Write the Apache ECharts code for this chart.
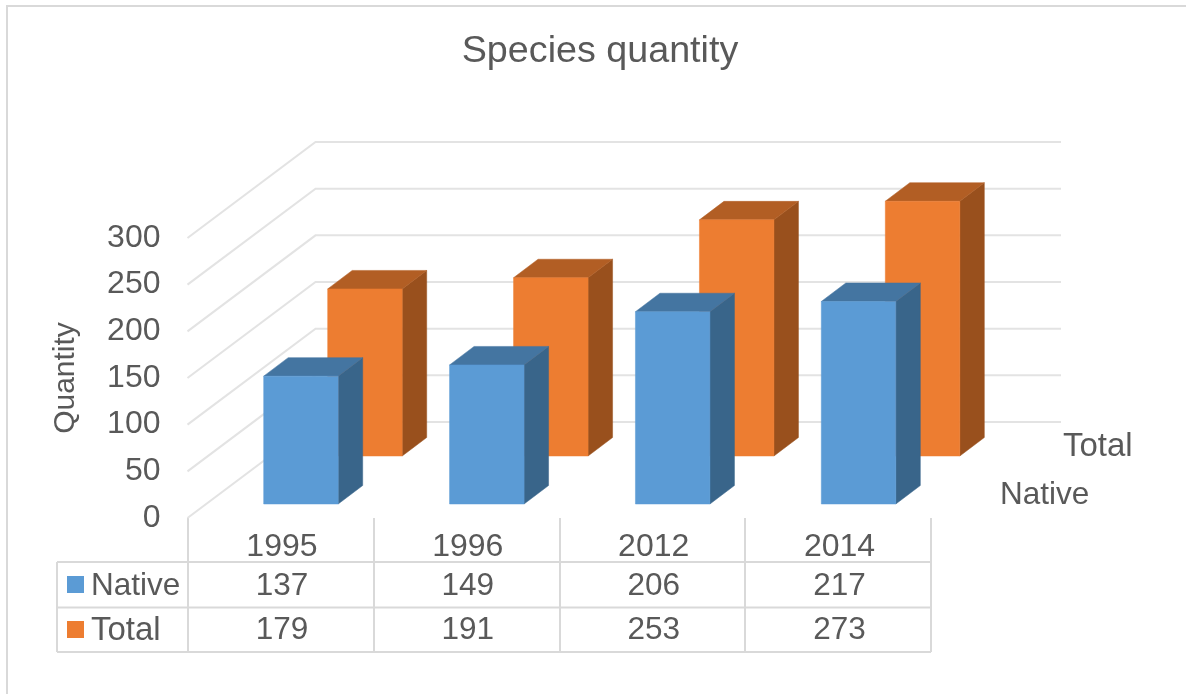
<!DOCTYPE html>
<html>
<head>
<meta charset="utf-8">
<style>html,body{margin:0;padding:0;background:#fff}#chart{width:1186px;height:694px}</style>
<script src="https://cdn.jsdelivr.net/npm/echarts@6/dist/echarts.min.js"></script>
</head>
<body>
<div id="chart"></div>
<script>
const years = ['1995', '1996', '2012', '2014'];
const native = [137, 149, 206, 217];
const total = [179, 191, 253, 273];
const seriesNames = ['Native', 'Total'];
const wallTicks = [0, 50, 100, 150, 200, 250, 300];

const FONT = '"Liberation Sans", Arial, sans-serif';
const INK = '#595959';
const RULE = '#d9d9d9';
const BAR_W = 74.5;
const BAR_DEPTH = [24.5, -18.5];
const WALL_DEPTH = [128, -96];
const WALL_RIGHT = 1061;
const TABLE_LEFT = 57;
const TABLE_RIGHT = 931;
const ROW_LINES = [562, 607.5, 652];
const ROW_TEXT_Y = [586, 630];

// Extruded bar: front, top and side faces, offset along the floor depth.
function barRenderer(shift, front, top, side) {
  return function (params, api) {
    const i = api.value(0);
    const v = api.value(1);
    const base = api.coord([i, 0]);
    const head = api.coord([i, v]);
    const l = base[0] + shift[0] - BAR_W / 2;
    const r = l + BAR_W;
    const by = base[1] + shift[1];
    const ty = head[1] + shift[1];
    const dx = BAR_DEPTH[0];
    const dy = BAR_DEPTH[1];
    const face = (points, fill) => ({
      type: 'polygon',
      shape: { points },
      style: { fill, stroke: fill, lineWidth: 0.5 }
    });
    return {
      type: 'group',
      children: [
        face([[r, ty], [r + dx, ty + dy], [r + dx, by + dy], [r, by]], side),
        face([[l, ty], [l + dx, ty + dy], [r + dx, ty + dy], [r, ty]], top),
        face([[l, ty], [r, ty], [r, by], [l, by]], front)
      ]
    };
  };
}

// Side wall and back wall gridline for one value.
function wallRenderer(params, api) {
  const v = api.value(0);
  const x0 = params.coordSys.x;
  const y = api.coord([0, v])[1];
  return {
    type: 'polyline',
    shape: {
      points: [[x0, y], [x0 + WALL_DEPTH[0], y + WALL_DEPTH[1]], [WALL_RIGHT, y + WALL_DEPTH[1]]]
    },
    style: { stroke: '#e3e3e3', lineWidth: 2, fill: 'none' }
  };
}

// One row of table values, centred under each category.
function rowRenderer(rowY) {
  return function (params, api) {
    const x = api.coord([api.value(0), 0])[0];
    return {
      type: 'text',
      style: {
        x: x + 1.5, y: rowY, text: String(api.value(1)),
        fill: INK, font: '31.5px ' + FONT, align: 'center', verticalAlign: 'middle'
      }
    };
  };
}

const rows = (values) => values.map((v, i) => [i, v]);
const hline = (x1, y, x2, w) => ({
  type: 'line',
  shape: { x1, y1: y, x2, y2: y },
  style: { stroke: RULE, lineWidth: w || 2 },
  silent: true
});
const vline = (x, y1, y2, w) => ({
  type: 'line',
  shape: { x1: x, y1, x2: x, y2 },
  style: { stroke: RULE, lineWidth: w || 2 },
  silent: true
});
const caption = (left, baseline, text, size) => ({
  type: 'text',
  x: left,
  y: baseline,
  style: { text, fill: INK, font: size + 'px ' + FONT, align: 'left', verticalAlign: 'bottom' },
  silent: true
});
const swatch = (x, y, fill) => ({
  type: 'rect',
  shape: { x, y, width: 17, height: 17 },
  style: { fill },
  silent: true
});

const chart = echarts.init(document.getElementById('chart'), null, { renderer: 'canvas' });
chart.setOption({
  animation: false,
  backgroundColor: '#fff',
  title: {
    text: 'Species quantity',
    left: 595,
    top: 28,
    textAlign: 'center',
    textStyle: { color: INK, fontFamily: FONT, fontWeight: 'normal', fontSize: 37.7 }
  },
  grid: { left: 187.5, right: 255, top: 238, bottom: 176 },
  xAxis: {
    type: 'category',
    data: years,
    axisLine: { show: false },
    axisTick: { show: true, length: 134, lineStyle: { color: RULE, width: 2 } },
    axisLabel: { color: INK, fontFamily: FONT, fontSize: 32, margin: 13, padding: [0, 0, 0, 3] },
    splitLine: { show: false }
  },
  yAxis: {
    type: 'value',
    min: 0,
    max: 300,
    interval: 50,
    name: 'Quantity',
    nameLocation: 'middle',
    nameRotate: 90,
    nameGap: 107,
    nameTextStyle: { color: INK, fontFamily: FONT, fontSize: 30 },
    axisLine: { show: false },
    axisTick: { show: false },
    splitLine: { show: false },
    axisLabel: { color: INK, fontFamily: FONT, fontSize: 32, margin: 27 }
  },
  series: [
    {
      type: 'custom', name: 'walls', z: 1, clip: false, silent: true,
      data: wallTicks.map((v) => [v]),
      encode: { y: 0 },
      renderItem: wallRenderer
    },
    {
      type: 'custom', name: seriesNames[1], z: 3, clip: false, silent: true,
      data: rows(total),
      encode: { x: 0, y: 1 },
      renderItem: barRenderer([84.5, -62], '#ed7d31', '#b25e24', '#99501d')
    },
    {
      type: 'custom', name: seriesNames[0], z: 4, clip: false, silent: true,
      data: rows(native),
      encode: { x: 0, y: 1 },
      renderItem: barRenderer([20.5, -14], '#5b9bd5', '#4475a1', '#39658a')
    },
    {
      type: 'custom', name: 'nativeRow', z: 5, clip: false, silent: true,
      data: rows(native),
      encode: { x: 0, y: 1 },
      renderItem: rowRenderer(ROW_TEXT_Y[0])
    },
    {
      type: 'custom', name: 'totalRow', z: 5, clip: false, silent: true,
      data: rows(total),
      encode: { x: 0, y: 1 },
      renderItem: rowRenderer(ROW_TEXT_Y[1])
    }
  ],
  graphic: [
    hline(6, 6, 1186),
    vline(7, 6, 694),
    hline(TABLE_LEFT, ROW_LINES[0], TABLE_RIGHT),
    hline(TABLE_LEFT, ROW_LINES[1], TABLE_RIGHT),
    hline(TABLE_LEFT, ROW_LINES[2], TABLE_RIGHT),
    vline(TABLE_LEFT, ROW_LINES[0], ROW_LINES[2]),
    swatch(67, 576, '#5b9bd5'),
    swatch(67, 621, '#ed7d31'),
    caption(91, 602, seriesNames[0], 31.5),
    caption(91, 647, seriesNames[1], 33),
    caption(1063, 463, seriesNames[1], 33),
    caption(1000, 511, seriesNames[0], 31.5)
  ]
});
</script>
</body>
</html>
